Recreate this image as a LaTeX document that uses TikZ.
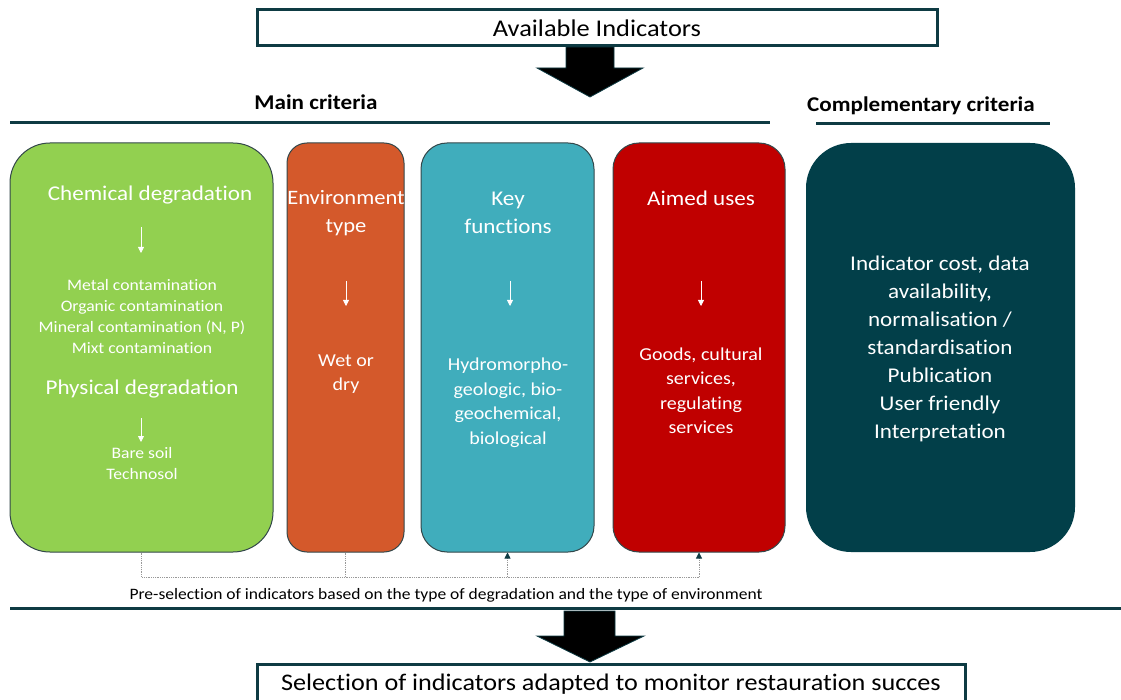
\documentclass[tikz,border=0pt]{standalone}
\usepackage{fontspec}
\setmainfont[FakeStretch=1.1,Ligatures=NoCommon]{Carlito}
\usetikzlibrary{arrows.meta}
\definecolor{dteal}{HTML}{0E3B43}
\definecolor{cgreen}{HTML}{92D050}
\definecolor{corange}{HTML}{D4592B}
\definecolor{cteal}{HTML}{40ADBC}
\definecolor{cred}{HTML}{C00000}
\definecolor{cdark}{HTML}{023F49}
\definecolor{cedge}{HTML}{33474A}
\tikzset{
  titlebox/.style={draw=dteal,line width=3pt,fill=white,inner sep=0pt,font=\fontsize{24}{28}\selectfont},
  critbox/.style={draw=cedge,line width=1pt,inner sep=0pt},
  head/.style={text=white,align=center,font=\fontsize{21}{28}\selectfont,inner sep=0pt},
  small/.style={text=white,align=center,font=\fontsize{16}{21}\selectfont,inner sep=0pt},
  mid/.style={text=white,align=center,font=\fontsize{18.2}{24.5}\selectfont,inner sep=0pt},
  wArrow/.style={draw=white,line width=0.8pt,-{Triangle[width=6pt,length=6pt]}},
  rule/.style={draw=dteal,line width=3pt},
  dotline/.style={draw=gray!80,line width=0.8pt,densely dotted},
  dottip/.style={-{Triangle[width=6pt,length=6pt,color=dteal]}},
  bigarrow/.style={fill=black,draw=dteal,line width=0.8pt},
  crit/.style={font=\bfseries\fontsize{21}{24}\selectfont,inner sep=0pt}
}
\begin{document}
\begin{tikzpicture}[x=1pt,y=-1pt]
\useasboundingbox[fill=white] (0,0) rectangle (1121,700);
% top box
\node[titlebox,minimum width=680pt,minimum height=36pt] (top) at (597,28) {Available Indicators};
% top arrow
\fill[bigarrow] (566,47) -- (614,47) -- (614,68) -- (643,68) -- (590,97) -- (537,68) -- (566,68) -- cycle;
% criteria titles
\node[crit] (mainc) at (316,102) {Main criteria};
\node[crit] (compc) at (921,106) {Complementary criteria};
\draw[rule] (10,123) -- (770,123);
\draw[rule] (816,124) -- (1050,124);
% boxes
\node[critbox,fill=cgreen,rounded corners=40pt,minimum width=263pt,minimum height=409pt] (green) at (141.5,347.5) {};
\node[critbox,fill=corange,rounded corners=20pt,minimum width=117pt,minimum height=409pt] (orange) at (345.5,347.5) {};
\node[critbox,fill=cteal,rounded corners=26pt,minimum width=173pt,minimum height=409pt] (teal) at (507.5,347.5) {};
\node[critbox,fill=cred,rounded corners=26pt,minimum width=172pt,minimum height=409pt] (red) at (699,347.5) {};
\node[fill=cdark,rounded corners=45pt,minimum width=269pt,minimum height=409pt,inner sep=0pt] (dark) at (940.5,347.5) {};
% green texts
\node[head] (chem) at (150,195) {Chemical degradation};
\draw[wArrow] (141,227) -- (141,253);
\node[small] (chemlist) at (142,316.5) {Metal contamination\\Organic contamination\\Mineral contamination (N, P)\\Mixt contamination};
\node[head] (phys) at (142,389) {Physical degradation};
\draw[wArrow] (141,418) -- (141,442);
\node[small] (physlist) at (142,463.5) {Bare soil\\Technosol};
% orange texts
\node[head,font=\fontsize{20.5}{28}\selectfont] (envt) at (346,213) {Environment\\type};
\draw[wArrow] (346,281) -- (346,306);
\node[mid] (wet) at (346,374) {Wet or\\dry};
% teal texts
\node[head] (keyf) at (508,213) {Key\\functions};
\draw[wArrow] (510,281) -- (510,306);
\node[mid] (hyd) at (508,402.5) {Hydromorpho-\\geologic, bio-\\geochemical,\\biological};
% red texts
\node[head] (aim) at (701,198) {Aimed uses};
\draw[wArrow] (701,281) -- (701,306);
\node[mid] (goods) at (701,390.5) {Goods, cultural\\services,\\regulating\\services};
% dark texts
\node[head,font=\fontsize{21}{28}\selectfont] (comp) at (940,349) {Indicator cost, data\\availability,\\normalisation /\\standardisation\\Publication\\User friendly\\Interpretation};
% dotted connectors
\coordinate (bus) at (0,577);
\draw[dotline] (green.south) |- (bus -| red.south);
\draw[dotline] (orange.south) -- (orange.south |- bus);
\draw[dotline,dottip] (teal.south |- bus) -- (teal.south);
\draw[dotline,dottip] (red.south |- bus) -- (red.south);
\node[font=\fontsize{15.9}{18}\selectfont,inner sep=0pt] (pre) at (446,595) {Pre-selection of indicators based on the type of degradation and the type of environment};
\draw[rule] (10,608) -- (1121,608);
% bottom arrow
\fill[bigarrow] (564,611) -- (615,611) -- (615,636) -- (644,636) -- (590,662) -- (537,636) -- (564,636) -- cycle;
% bottom box
\node[titlebox,minimum width=708pt,minimum height=40pt,font=\fontsize{23.8}{28}\selectfont] (bottom) at (611,684) {Selection of indicators adapted to monitor restauration succes};
\end{tikzpicture}
\end{document}
